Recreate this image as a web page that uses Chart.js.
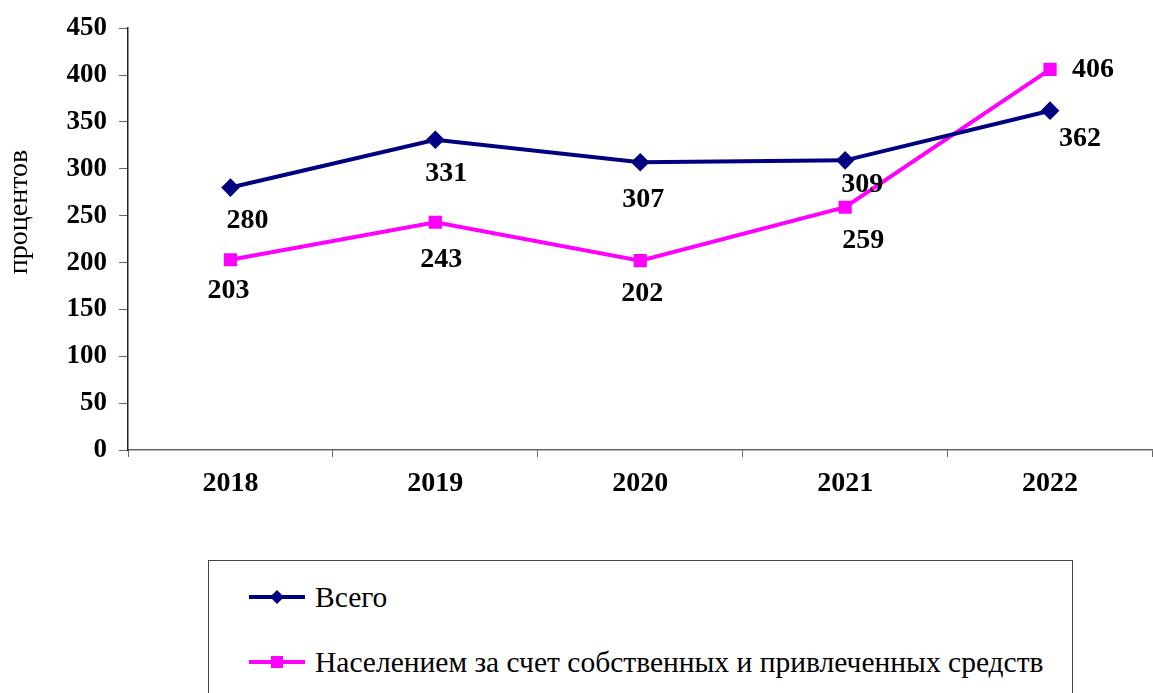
<!DOCTYPE html>
<html>
<head>
<meta charset="utf-8">
<script src="https://cdn.jsdelivr.net/npm/chart.js@4"></script>
<style>
  body { margin: 0; background: #fff; }
  #wrap { position: relative; width: 1153px; height: 693px; overflow: hidden; }
  #chart { position: absolute; left: 0; top: 0; }
  #legend {
    position: absolute; left: 208px; top: 560px; width: 865px; height: 150px;
    border: 1px solid #444; box-sizing: border-box;
    font-family: "Liberation Serif", "Times New Roman", serif; font-size: 29.5px;
  }
  .item { position: absolute; left: 38px; display: flex; align-items: center; }
  .item canvas { margin-right: 8px; }
</style>
</head>
<body>
<div id="wrap">
  <canvas id="chart" width="1163" height="520"></canvas>
  <div id="legend"></div>
</div>
<script>
const years = ['2018', '2019', '2020', '2021', '2022'];
const totalValues = [280, 331, 307, 309, 362];
const populationValues = [203, 243, 202, 259, 406];
const seriesNames = ['Всего', 'Населением за счет собственных и привлеченных средств'];
const yTicks = [0, 50, 100, 150, 200, 250, 300, 350, 400, 450];
const yTitle = 'процентов';

const navy = '#000080';
const magenta = '#FF00FF';
const serif = '"Liberation Serif", "Times New Roman", serif';

// смещения подписей (dx, dy) относительно точки
const labelOffsets = [
  [[17, 33], [11, 34], [3, 38], [17, 24], [30, 28]],
  [[-2, 31], [6, 38], [2, 33], [18, 34], [43, 0]]
];

const extraText = {
  id: 'extraText',
  afterDatasetsDraw(chart) {
    const ctx = chart.ctx;
    ctx.save();
    ctx.font = 'bold 28px ' + serif;
    ctx.fillStyle = '#000';
    ctx.textAlign = 'center';
    ctx.textBaseline = 'middle';
    chart.data.datasets.forEach((ds, i) => {
      chart.getDatasetMeta(i).data.forEach((pt, j) => {
        const off = labelOffsets[i][j];
        ctx.fillText(String(ds.data[j]), pt.x + off[0], pt.y + off[1]);
      });
    });
    // подпись оси Y
    ctx.font = '28px ' + serif;
    ctx.translate(20, 212);
    ctx.rotate(-Math.PI / 2);
    ctx.fillText(yTitle, 0, 0);
    ctx.restore();
  }
};

const chart = new Chart(document.getElementById('chart'), {
  type: 'line',
  data: {
    labels: years,
    datasets: [
      {
        label: seriesNames[0],
        data: totalValues,
        borderColor: navy,
        backgroundColor: navy,
        borderWidth: 4,
        pointStyle: 'rectRot',
        pointRadius: 6.5,
        pointHoverRadius: 6.5,
        tension: 0
      },
      {
        label: seriesNames[1],
        data: populationValues,
        borderColor: magenta,
        backgroundColor: magenta,
        borderWidth: 4,
        pointStyle: 'rect',
        pointRadius: 6.5,
        pointHoverRadius: 6.5,
        tension: 0
      }
    ]
  },
  options: {
    responsive: false,
    animation: false,
    layout: { padding: { top: 25, right: 0, left: 0, bottom: 0 } },
    plugins: {
      legend: { display: false },
      tooltip: { enabled: false }
    },
    scales: {
      x: {
        offset: true,
        grid: { offset: true, drawOnChartArea: false, tickLength: 7, color: '#666' },
        border: { color: '#666', width: 1.5 },
        ticks: { color: '#000', font: { family: serif, size: 28, weight: 'bold' }, padding: 10 },
        afterFit(scale) { scale.height = 70; }
      },
      y: {
        min: 0,
        max: 450,
        afterBuildTicks(scale) { scale.ticks = yTicks.map(v => ({ value: v })); },
        grid: { drawOnChartArea: false, tickLength: 9, color: '#666' },
        border: { color: '#222', width: 1.5 },
        ticks: { color: '#000', font: { family: serif, size: 27, weight: 'bold' }, padding: 12 },
        afterFit(scale) { scale.width = 128; }
      }
    }
  },
  plugins: [extraText]
});

// легенда
const legend = document.getElementById('legend');
chart.data.datasets.forEach((ds, i) => {
  const item = document.createElement('div');
  item.className = 'item';
  item.style.top = (i === 0 ? 18 : 83) + 'px';
  const c = document.createElement('canvas');
  c.width = 60; c.height = 36;
  const g = c.getContext('2d');
  g.strokeStyle = ds.borderColor;
  g.lineWidth = 4;
  g.beginPath(); g.moveTo(2, 18); g.lineTo(58, 18); g.stroke();
  g.fillStyle = ds.borderColor;
  if (ds.pointStyle === 'rectRot') {
    g.beginPath(); g.moveTo(30, 11); g.lineTo(37, 18); g.lineTo(30, 25); g.lineTo(23, 18); g.closePath(); g.fill();
  } else {
    g.fillRect(24, 12, 12, 12);
  }
  item.appendChild(c);
  const span = document.createElement('span');
  span.textContent = ds.label;
  item.appendChild(span);
  legend.appendChild(item);
});
</script>
</body>
</html>
